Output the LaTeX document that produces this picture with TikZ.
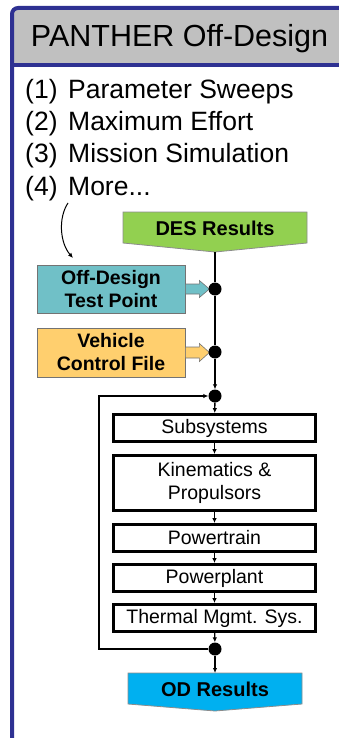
\documentclass[tikz,border=0pt]{standalone}
\usepackage{fontspec}
\setmainfont{Liberation Sans}
\usetikzlibrary{arrows.meta}
\definecolor{frameblue}{HTML}{2E3192}
\definecolor{headgray}{HTML}{C0C0C0}
\definecolor{desgreen}{HTML}{92D050}
\definecolor{testteal}{HTML}{70C0C7}
\definecolor{ctrlgold}{HTML}{FFCF6E}
\definecolor{odblue}{HTML}{00B0F0}

\begin{document}
\begin{tikzpicture}[x=1pt,y=-1pt,>={Latex[length=5pt,width=4.5pt]}]
  \tikzstyle{module}=[draw=black,line width=2.8pt,fill=white,minimum width=202pt,minimum height=27pt,inner sep=0pt,align=center,font=\fontsize{19.5}{23}\selectfont]
  \tikzstyle{inputbox}=[draw=black!55,line width=0.8pt,minimum width=148pt,minimum height=48pt,inner sep=0pt,align=center,font=\fontsize{19.5}{23}\selectfont\bfseries]
  \tikzstyle{junction}=[circle,fill=black,minimum size=13pt,inner sep=0pt]
  \tikzstyle{feed}=[draw=black!55,line width=0.6pt]
  \tikzstyle{flow}=[->,line width=1.3pt]
  \tikzstyle{banner}=[draw=black!45,line width=0.8pt]
  \tikzstyle{item}=[anchor=base west,inner sep=0pt,font=\fontsize{26.5}{30}\selectfont]
  \useasboundingbox (0,0) rectangle (339,738);

  % frame and header
  \fill[headgray] (14,10) rectangle (339,63);
  \draw[frameblue,line width=4pt,rounded corners=6pt] (12,738) -- (12,8) -- (339,8);
  \draw[frameblue,line width=4.5pt] (12,65) -- (339,65);
  \node[anchor=base,inner sep=0pt,font=\fontsize{30.5}{34}\selectfont] (title) at (179.5,47) {PANTHER Off-Design};

  % cases
  \node[item] (case1) at (25,99)  {\makebox[43pt][l]{(1)}Parameter Sweeps};
  \node[item] (case2) at (25,131) {\makebox[43pt][l]{(2)}Maximum Effort};
  \node[item] (case3) at (25,163) {\makebox[43pt][l]{(3)}Mission Simulation};
  \node[item] (case4) at (25,195) {\makebox[43pt][l]{(4)}More...};

  % inputs
  \draw[banner,fill=desgreen] (123,212) -- (307,212) -- (307,243) -- (215,252) -- (123,243) -- cycle;
  \node[font=\fontsize{20}{24}\selectfont\bfseries] (des) at (215,228) {DES Results};
  \coordinate (desTip) at (215,252);

  \node[inputbox,fill=testteal] (odtp) at (111,289) {Off-Design\\Test Point};
  \node[inputbox,fill=ctrlgold,minimum height=49pt] (vcf) at (111,352.5) {Vehicle\\Control File};
  \draw[feed,fill=testteal] (odtp.east) ++(0,-5) -- ++(14,0) -- ++(0,-3.5) -- ++(10,8.5)
    -- ++(-10,8.5) -- ++(0,-3.5) -- ++(-14,0) -- cycle;
  \draw[feed,fill=ctrlgold] (vcf.east) ++(0,-5.5) -- ++(14,0) -- ++(0,-3.5) -- ++(10,9)
    -- ++(-10,9) -- ++(0,-3.5) -- ++(-14,0) -- cycle;

  \node[junction] (j1) at (215,289) {};
  \node[junction] (j2) at (215,352) {};
  \node[junction] (j3) at (215,396) {};
  \node[junction] (j4) at (215,649) {};

  % analysis chain
  \node[module] (sub)   at (214.5,428) {Subsystems};
  \node[module,minimum height=55pt] (kin) at (214.5,483) {Kinematics \&\\Propulsors};
  \node[module] (train) at (214.5,538) {Powertrain};
  \node[module] (plant) at (214.5,578) {Powerplant};
  \node[module] (tms)   at (214.5,618) {Thermal Mgmt. Sys.};

  \draw[banner,fill=odblue] (128,673) -- (302,673) -- (302,704) -- (215,711) -- (128,704) -- cycle;
  \node[font=\fontsize{20}{24}\selectfont\bfseries] (od) at (215,689) {OD Results};
  \coordinate (odTop) at (215,673);

  % connectors
  \draw[line width=1.3pt] (desTip) -- (j1) -- (j2);
  \draw[flow] (j2) -- (j3);
  \draw[flow] (j3) -- (sub);
  \draw[flow] (sub) -- (kin);
  \draw[flow] (kin) -- (train);
  \draw[flow] (train) -- (plant);
  \draw[flow] (plant) -- (tms);
  \draw[flow] (tms) -- (j4);
  \draw[flow] (j4) -- (odTop);
  \coordinate (loopCorner) at (99,649);
  \draw[flow] (j4) -- (loopCorner) |- (j3);

  \coordinate (moreTail) at (68,203);
  \coordinate (moreHead) at (73,258);
  \draw[->,line width=1pt] (moreTail) .. controls (58,218) and (60,243) .. (moreHead);
\end{tikzpicture}
\end{document}
